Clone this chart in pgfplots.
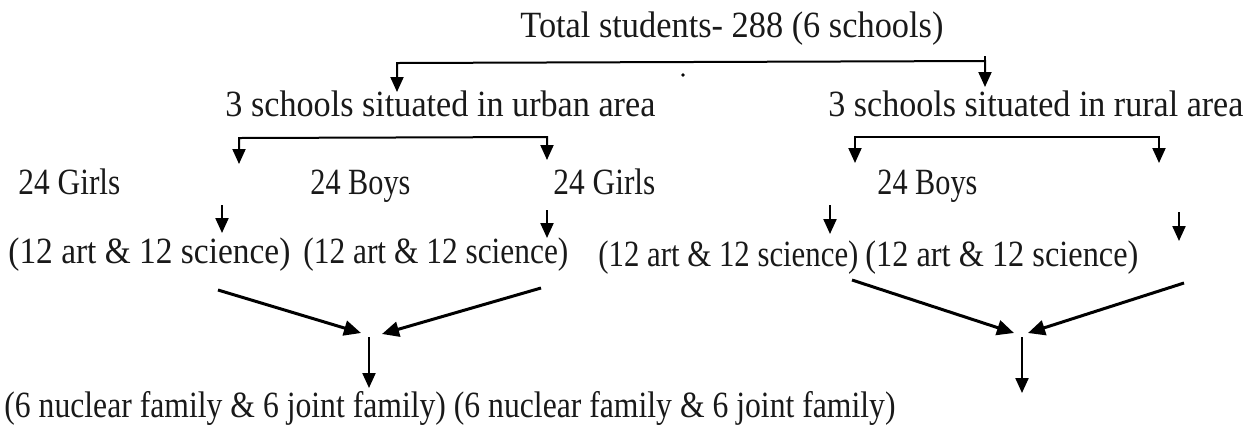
\documentclass[border=0pt]{standalone}
\usepackage{graphicx}
\usepackage{pgfplots}
\pgfplotsset{compat=1.18}
\usetikzlibrary{arrows.meta}
\usepackage{fontspec}
\setmainfont{Liberation Serif}
\tikzset{
  arr/.style={-{Triangle[length=7.5pt,width=6.5pt]}, line width=1.1pt, black},
  barr/.style={{Triangle[length=7.5pt,width=6.5pt]}-{Triangle[length=7.5pt,width=6.5pt]}, line width=1pt, black},
  darr/.style={-{Triangle[length=8.5pt,width=7.5pt]}, line width=1.5pt, black},
  lbl/.style={anchor=base west, inner sep=0pt, text=black!90, font=\fontsize{18.5}{20}\selectfont},
}
\newcommand{\tx}[2]{\resizebox{#1}{\height}{#2}}
\begin{document}
\begin{tikzpicture}
\begin{axis}[name=ax, width=624.5pt, height=212.5pt, scale only axis, hide axis,
  xmin=0, xmax=1249, ymin=0, ymax=425, y dir=reverse, clip=false]
% top split
\addplot[barr] coordinates {(397,92) (397,63) (985,61) (985,87)};
\addplot[black, line width=0.8pt] coordinates {(985,56) (985,62)};
\addplot[only marks, mark=*, mark size=0.6pt, black] coordinates {(683,75)};
% urban / rural splits
\addplot[barr] coordinates {(239,164) (239,138) (547,137) (547,160)};
\addplot[barr] coordinates {(855,163) (855,137) (1159,137) (1159,163)};
% down arrows to science groups
\addplot[arr] coordinates {(222,205) (222,233)};
\addplot[arr] coordinates {(547,210) (547,238)};
\addplot[arr] coordinates {(830,205) (830,234)};
\addplot[arr] coordinates {(1179,212) (1179,241)};
% converging diagonals
\addplot[darr] coordinates {(218,290) (361,333)};
\addplot[darr] coordinates {(541,288) (382,334)};
\addplot[darr] coordinates {(852,280) (1014,333)};
\addplot[darr] coordinates {(1184,283) (1028,333)};
% final down arrows
\addplot[arr] coordinates {(369,337) (369,388)};
\addplot[arr] coordinates {(1022,337) (1022,393)};
% texts
\node[lbl] at (axis cs:520,37) {\tx{211.5pt}{Total students- 288 (6 schools)}};
\node[lbl] at (axis cs:225,116) {\tx{215pt}{3 schools situated in urban area}};
\node[lbl] at (axis cs:828,116) {\tx{207.5pt}{3 schools situated in rural area}};
\node[lbl] at (axis cs:18,194) {\tx{51pt}{24 Girls}};
\node[lbl] at (axis cs:310,194) {\tx{50pt}{24 Boys}};
\node[lbl] at (axis cs:553,194) {\tx{51pt}{24 Girls}};
\node[lbl] at (axis cs:877,194) {\tx{50pt}{24 Boys}};
\node[lbl] at (axis cs:8,263) {\tx{141pt}{(12 art \& 12 science)}};
\node[lbl] at (axis cs:303,263) {\tx{132.5pt}{(12 art \& 12 science)}};
\node[lbl] at (axis cs:598,266) {\tx{130pt}{(12 art \& 12 science)}};
\node[lbl] at (axis cs:865,266) {\tx{136.5pt}{(12 art \& 12 science)}};
\node[lbl] at (axis cs:4,417) {\tx{445.5pt}{(6 nuclear family \& 6 joint family) (6 nuclear family \& 6 joint family)}};
\end{axis}
\pgfresetboundingbox
\path (ax.south west) rectangle (ax.north east);
\end{tikzpicture}
\end{document}
